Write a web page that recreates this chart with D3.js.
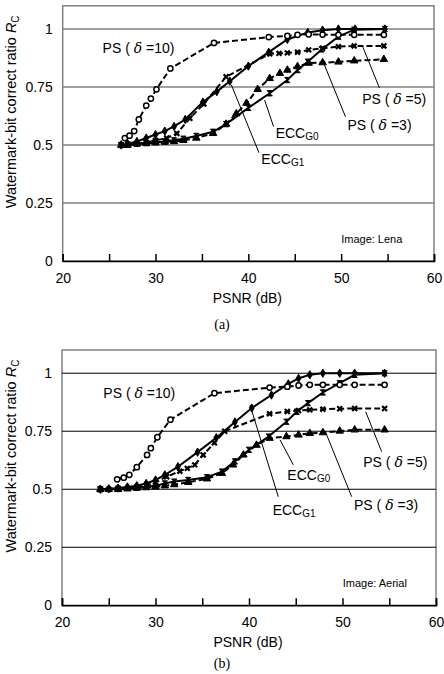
<!DOCTYPE html>
<html>
<head>
<meta charset="utf-8">
<script src="https://cdn.jsdelivr.net/npm/d3@7"></script>
<style>
  body { margin: 0; background: #fff; }
  text { font-family: "Liberation Sans", Arial, sans-serif; fill: #000; }
</style>
</head>
<body>
<script>
// ---- (a) Image: Lena ----
const lenaPs10X = [26.7, 27.2, 27.7, 28.2, 29.0, 29.5, 30.1, 31.6, 36.3, 42.2, 44.2, 45.3, 46.5, 48.0, 49.7, 51.4, 54.6];
const lenaPs10Y = [0.53, 0.54, 0.56, 0.61, 0.67, 0.70, 0.74, 0.83, 0.94, 0.965, 0.97, 0.975, 0.977, 0.976, 0.975, 0.975, 0.975];
const lenaPs5X = [26.3, 27.0, 28.0, 29.0, 30.0, 31.2, 32.3, 33.7, 35.2, 37.6, 42.3, 43.3, 44.2, 45.3, 46.5, 48.0, 49.7, 51.4, 54.6];
const lenaPs5Y = [0.50, 0.50, 0.505, 0.51, 0.52, 0.53, 0.55, 0.615, 0.677, 0.794, 0.893, 0.895, 0.897, 0.90, 0.91, 0.917, 0.924, 0.927, 0.927];
const lenaPs3X = [26.3, 27.0, 28.0, 29.0, 30.0, 31.0, 32.0, 33.0, 34.4, 36.2, 37.6, 38.7, 39.8, 41.0, 42.3, 43.4, 44.2, 45.3, 46.5, 48.0, 49.7, 51.4, 54.6];
const lenaPs3Y = [0.50, 0.50, 0.505, 0.507, 0.51, 0.513, 0.515, 0.52, 0.53, 0.55, 0.59, 0.635, 0.68, 0.74, 0.787, 0.809, 0.823, 0.838, 0.853, 0.855, 0.858, 0.863, 0.869];
const lenaG1X = [26.3, 27.0, 28.0, 29.0, 30.0, 31.0, 32.0, 33.2, 35.1, 36.6, 38.0, 40.0, 42.2, 44.2, 46.4, 48.0, 49.7, 51.5, 54.7];
const lenaG1Y = [0.50, 0.505, 0.515, 0.53, 0.545, 0.56, 0.58, 0.61, 0.685, 0.73, 0.775, 0.84, 0.90, 0.955, 0.985, 0.995, 1.0, 1.0, 1.0];
const lenaG0X = [26.3, 27.0, 28.0, 29.0, 30.0, 31.0, 32.0, 33.0, 34.4, 36.2, 37.6, 40.0, 42.3, 44.2, 45.3, 46.4, 47.9, 49.7, 51.4, 54.7];
const lenaG0Y = [0.50, 0.502, 0.505, 0.508, 0.512, 0.515, 0.52, 0.527, 0.539, 0.557, 0.59, 0.66, 0.723, 0.78, 0.823, 0.859, 0.912, 0.967, 0.997, 1.0];

// ---- (b) Image: Aerial ----
const aerialPs10X = [25.9, 26.6, 27.2, 28.0, 29.1, 29.5, 30.2, 31.6, 36.3, 42.2, 44.1, 45.3, 46.5, 47.9, 49.7, 51.3, 54.5];
const aerialPs10Y = [0.543, 0.55, 0.562, 0.595, 0.648, 0.677, 0.724, 0.80, 0.914, 0.938, 0.942, 0.947, 0.95, 0.95, 0.95, 0.95, 0.95];
const aerialPs5X = [24.1, 25.0, 26.0, 27.0, 28.0, 29.0, 30.0, 31.2, 32.6, 33.4, 34.2, 35.1, 36.3, 37.4, 42.2, 44.1, 45.3, 46.5, 47.9, 49.7, 51.3, 54.5];
const aerialPs5Y = [0.50, 0.50, 0.503, 0.505, 0.51, 0.515, 0.53, 0.554, 0.578, 0.59, 0.605, 0.648, 0.70, 0.75, 0.825, 0.835, 0.839, 0.842, 0.845, 0.847, 0.848, 0.848];
const aerialPs3X = [24.1, 25.0, 26.0, 27.0, 28.0, 29.0, 30.0, 31.0, 32.0, 33.5, 35.5, 37.1, 38.3, 39.4, 40.8, 42.2, 44.0, 45.3, 46.5, 47.9, 49.7, 51.3, 54.5];
const aerialPs3Y = [0.50, 0.50, 0.50, 0.502, 0.505, 0.507, 0.51, 0.515, 0.52, 0.53, 0.545, 0.569, 0.605, 0.648, 0.69, 0.72, 0.727, 0.734, 0.741, 0.744, 0.751, 0.756, 0.756];
const aerialG1X = [24.1, 25.0, 26.0, 27.0, 28.0, 29.0, 30.0, 31.0, 32.4, 34.5, 36.5, 38.5, 40.3, 42.4, 44.2, 45.3, 46.5, 47.9, 49.7, 51.3, 54.5];
const aerialG1Y = [0.50, 0.502, 0.505, 0.51, 0.515, 0.525, 0.54, 0.562, 0.597, 0.66, 0.722, 0.79, 0.85, 0.906, 0.954, 0.978, 0.993, 1.0, 1.0, 1.0, 1.0];
const aerialG0X = [24.1, 26.0, 28.0, 30.0, 31.0, 32.0, 33.5, 35.5, 37.1, 38.5, 40.0, 42.1, 44.0, 45.1, 46.3, 47.9, 49.7, 51.3, 54.5];
const aerialG0Y = [0.50, 0.502, 0.507, 0.515, 0.525, 0.533, 0.54, 0.552, 0.576, 0.62, 0.67, 0.727, 0.791, 0.834, 0.871, 0.917, 0.957, 0.993, 1.0];

const xTicks = [20, 25, 30, 35, 40, 45, 50, 55, 60];
const yTicks = [0, 0.25, 0.5, 0.75, 1];
const yTickLabels = ["0", "0.25", "0.5", "0.75", "1"];

// custom marker shapes
const crossSym = {
  draw(ctx, size) {
    const s = Math.sqrt(size) / 2;
    ctx.moveTo(-s, -s); ctx.lineTo(s, s);
    ctx.moveTo(s, -s); ctx.lineTo(-s, s);
  }
};
const hourglassSym = {
  draw(ctx, size) {
    const s = Math.sqrt(size) / 2;
    ctx.moveTo(-s, -s); ctx.lineTo(s, -s);
    ctx.lineTo(-s, s); ctx.lineTo(s, s);
    ctx.closePath();
  }
};

const styles = {
  ps10: { dash: "6,3", sym: d3.symbolCircle, size: 22, fill: "#fff", sw: 1.5 },
  ps5:  { dash: "6,3", sym: crossSym, size: 24, fill: "none", sw: 2.2 },
  ps3:  { dash: "6,3", sym: d3.symbolTriangle, size: 24, fill: "#000", sw: 1 },
  g1:   { dash: null, sym: d3.symbolDiamond, size: 20, fill: "#000", sw: 1 },
  g0:   { dash: null, sym: hourglassSym, size: 28, fill: "#000", sw: 1 }
};

const zip = (xs, ys) => xs.map((x, i) => ({ x: x, y: ys[i] }));

const panels = [
  {
    top: 5.8, bottom: 261, left: 62.7, right: 434,
    grid: "#808080", gridW: 1.6, caption: "(a)", capDy: 68, image: "Image: Lena",
    series: [
      { key: "g1", pts: zip(lenaG1X, lenaG1Y) },
      { key: "g0", pts: zip(lenaG0X, lenaG0Y) },
      { key: "ps3", pts: zip(lenaPs3X, lenaPs3Y) },
      { key: "ps5", pts: zip(lenaPs5X, lenaPs5Y) },
      { key: "ps10", pts: zip(lenaPs10X, lenaPs10Y) }
    ],
    labels: [
      { kind: "ps", d: "10", x: 24.3, y: 0.919 },
      { kind: "ps", d: "5", x: 52.26, y: 0.697 },
      { kind: "ps", d: "3", x: 50.68, y: 0.586 },
      { kind: "ecc", d: "G0", x: 42.94, y: 0.552 },
      { kind: "ecc", d: "G1", x: 41.4, y: 0.438 }
    ],
    leaders: [
      [54.12, 0.746, 52.32, 0.924],
      [50.46, 0.622, 48.2, 0.845],
      [42.72, 0.579, 41.75, 0.694],
      [41.14, 0.467, 38.17, 0.759]
    ],
    imagePos: [50.0, 0.095]
  },
  {
    top: 350, bottom: 605.3, left: 62, right: 436,
    grid: "#000", gridW: 1, caption: "(b)", capDy: 63, image: "Image: Aerial",
    series: [
      { key: "g1", pts: zip(aerialG1X, aerialG1Y) },
      { key: "g0", pts: zip(aerialG0X, aerialG0Y) },
      { key: "ps3", pts: zip(aerialPs3X, aerialPs3Y) },
      { key: "ps5", pts: zip(aerialPs5X, aerialPs5Y) },
      { key: "ps10", pts: zip(aerialPs10X, aerialPs10Y) }
    ],
    labels: [
      { kind: "ps", d: "10", x: 24.42, y: 0.916 },
      { kind: "ps", d: "5", x: 52.22, y: 0.619 },
      { kind: "ecc", d: "G0", x: 44.1, y: 0.562 },
      { kind: "ps", d: "3", x: 51.23, y: 0.432 },
      { kind: "ecc", d: "G1", x: 42.53, y: 0.411 }
    ],
    leaders: [
      [54.19, 0.662, 52.48, 0.834],
      [44.74, 0.605, 43.32, 0.713],
      [50.98, 0.468, 48.24, 0.741],
      [43.13, 0.468, 40.11, 0.863]
    ],
    imagePos: [50.02, 0.095]
  }
];

const svg = d3.select("body").append("svg")
  .attr("width", 444)
  .attr("height", 674);

panels.forEach((p) => {
  const x = d3.scaleLinear().domain([20, 60]).range([p.left, p.right]);
  const y = d3.scaleLinear().domain([0, 1.1]).range([p.bottom, p.top]);
  const g = svg.append("g");

  // frame
  g.append("rect")
    .attr("x", p.left).attr("y", p.top)
    .attr("width", p.right - p.left).attr("height", p.bottom - p.top)
    .attr("fill", "none").attr("stroke", "#808080").attr("stroke-width", 1.5);

  // grid
  g.selectAll(".grid")
    .data(yTicks.filter((d) => d > 0))
    .enter().append("line")
    .attr("x1", p.left).attr("x2", p.right)
    .attr("y1", (d) => y(d)).attr("y2", (d) => y(d))
    .attr("stroke", p.grid).attr("stroke-width", p.gridW);

  // y tick labels
  g.selectAll(".ylab")
    .data(yTicks)
    .enter().append("text")
    .attr("x", p.left - 10)
    .attr("y", (d) => y(d))
    .attr("dy", "0.35em")
    .attr("text-anchor", "end")
    .style("font-size", "14px")
    .text((d, i) => yTickLabels[i]);

  // x axis
  const xAxis = d3.axisBottom(x)
    .tickValues(xTicks)
    .tickSize(-7)
    .tickPadding(12)
    .tickFormat((d) => (d % 10 === 0 ? d : ""));
  const ax = g.append("g")
    .attr("transform", `translate(0,${p.bottom})`)
    .call(xAxis);
  ax.select(".domain").attr("stroke", "#000").attr("stroke-width", 1.6);
  ax.selectAll(".tick line").attr("stroke", "#000").attr("stroke-width", 1.5);
  ax.selectAll(".tick text")
    .style("font-size", "14px")
    .style("font-family", "'Liberation Sans', Arial, sans-serif");

  // axis titles
  g.append("text")
    .attr("x", (p.left + p.right) / 2 - 1)
    .attr("y", p.bottom + 42)
    .attr("text-anchor", "middle")
    .style("font-size", "14px")
    .text("PSNR (dB)");

  const yt = g.append("text")
    .attr("transform", `translate(16,${p.top + 106}) rotate(-90)`)
    .attr("text-anchor", "middle")
    .style("font-size", "14.5px");
  yt.append("tspan").text("Watermark-bit correct ratio ");
  yt.append("tspan").style("font-style", "italic").text("R");
  yt.append("tspan").attr("dy", 3).style("font-size", "10px").text("C");

  g.append("text")
    .attr("x", 222)
    .attr("y", p.bottom + p.capDy)
    .attr("text-anchor", "middle")
    .style("font-family", "'Liberation Serif', 'Times New Roman', serif")
    .style("font-size", "14px")
    .text(p.caption);

  g.append("text")
    .attr("x", x(p.imagePos[0]))
    .attr("y", y(p.imagePos[1]))
    .attr("dy", "0.35em")
    .style("font-size", "11px")
    .text(p.image);

  // leader lines
  g.selectAll(".leader")
    .data(p.leaders)
    .enter().append("line")
    .attr("x1", (d) => x(d[0])).attr("y1", (d) => y(d[1]))
    .attr("x2", (d) => x(d[2])).attr("y2", (d) => y(d[3]))
    .attr("stroke", "#000").attr("stroke-width", 1);

  // series
  const line = d3.line().x((d) => x(d.x)).y((d) => y(d.y));
  p.series.forEach((s) => {
    const st = styles[s.key];
    g.append("path")
      .datum(s.pts)
      .attr("d", line)
      .attr("fill", "none")
      .attr("stroke", "#000")
      .attr("stroke-width", 2)
      .attr("stroke-dasharray", st.dash);
    g.selectAll(null)
      .data(s.pts)
      .enter().append("path")
      .attr("transform", (d) => `translate(${x(d.x)},${y(d.y)})`)
      .attr("d", d3.symbol().type(st.sym).size(st.size))
      .attr("fill", st.fill)
      .attr("stroke", "#000")
      .attr("stroke-width", st.sw);
  });

  // series labels
  p.labels.forEach((l) => {
    const t = g.append("text")
      .attr("x", x(l.x))
      .attr("y", y(l.y))
      .attr("dy", "0.35em")
      .style("font-size", "14px");
    if (l.kind === "ps") {
      t.append("tspan").text("PS ( ");
      t.append("tspan")
        .style("font-style", "italic")
        .style("font-family", "'DejaVu Serif', serif")
        .text("\u03b4");
      t.append("tspan").text(" =" + l.d + ")");
    } else {
      t.append("tspan").text("ECC");
      t.append("tspan").attr("dy", 2).style("font-size", "10px").text(l.d);
    }
  });
});
</script>
</body>
</html>
